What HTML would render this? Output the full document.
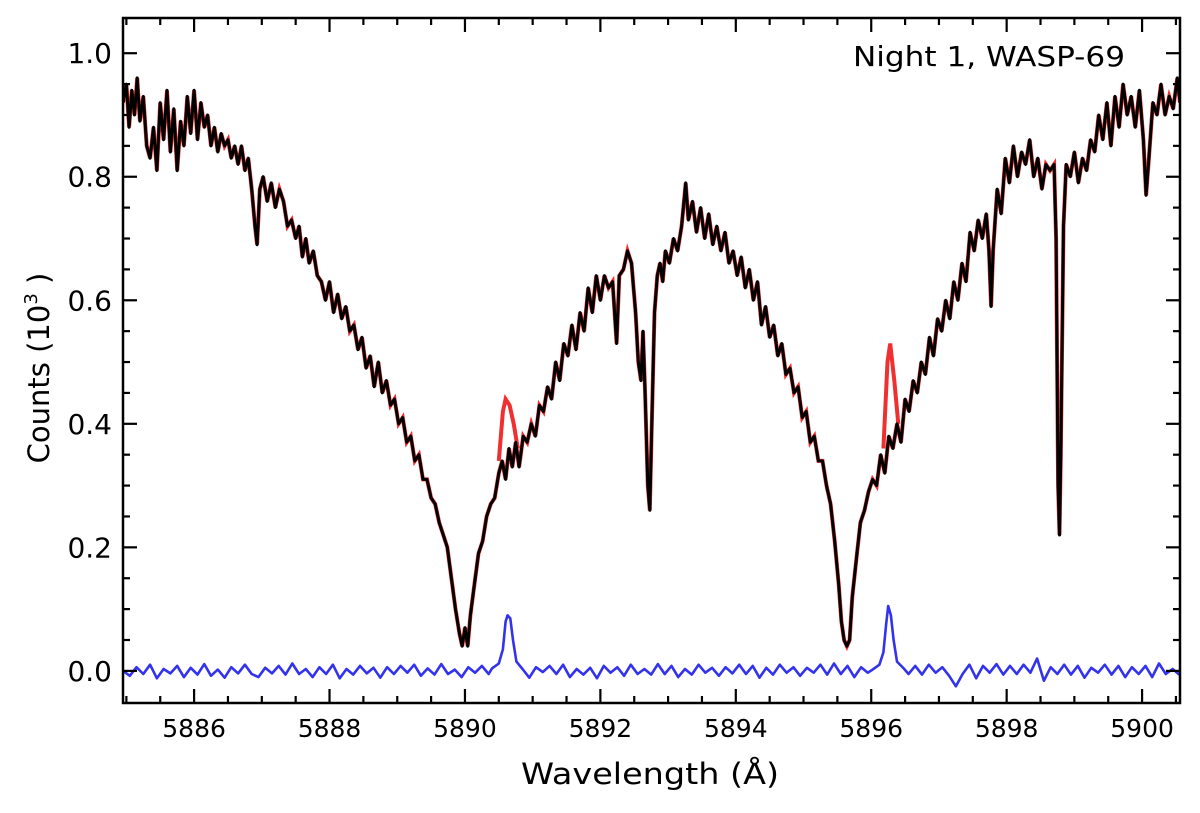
<!DOCTYPE html>
<html><head><meta charset="utf-8"><style>
html,body{margin:0;padding:0;background:#fff;}
svg{display:block;font-family:"DejaVu Sans","Liberation Sans",sans-serif;}
</style></head><body>
<svg id="chart" width="1200" height="813" viewBox="0 0 1200 813" xmlns="http://www.w3.org/2000/svg">
<g id="marks"></g>
<g id="axes"></g>
<text x="853" y="66" font-size="28" textLength="272" lengthAdjust="spacingAndGlyphs">Night 1, WASP-69</text>
<text x="521" y="784" font-size="29" textLength="258" lengthAdjust="spacingAndGlyphs">Wavelength (Å)</text>
<text transform="translate(49,368) rotate(-90)" font-size="29" text-anchor="middle">Counts (10<tspan font-size="18" dy="-12">3</tspan><tspan dy="12"> )</tspan></text>
</svg>
<script>
const xTicks=[5886,5888,5890,5892,5894,5896,5898,5900];
const yTicks=[0.0,0.2,0.4,0.6,0.8,1.0];
const yTickLabels=["0.0","0.2","0.4","0.6","0.8","1.0"];
const blackLam=[5884.95,5885.00,5885.04,5885.08,5885.12,5885.16,5885.20,5885.25,5885.30,5885.35,5885.40,5885.45,5885.50,5885.55,5885.60,5885.65,5885.70,5885.75,5885.80,5885.85,5885.90,5885.95,5886.00,5886.05,5886.10,5886.15,5886.20,5886.25,5886.30,5886.35,5886.40,5886.45,5886.50,5886.55,5886.60,5886.65,5886.70,5886.75,5886.80,5886.85,5886.90,5886.93,5886.97,5887.02,5887.08,5887.14,5887.20,5887.26,5887.32,5887.38,5887.44,5887.50,5887.55,5887.60,5887.65,5887.70,5887.76,5887.82,5887.88,5887.94,5888.00,5888.06,5888.12,5888.18,5888.24,5888.30,5888.36,5888.42,5888.48,5888.54,5888.60,5888.66,5888.72,5888.78,5888.84,5888.90,5888.96,5889.02,5889.08,5889.14,5889.20,5889.26,5889.32,5889.38,5889.44,5889.50,5889.56,5889.62,5889.68,5889.74,5889.80,5889.86,5889.92,5889.96,5890.00,5890.04,5890.08,5890.14,5890.20,5890.26,5890.32,5890.38,5890.44,5890.50,5890.55,5890.60,5890.65,5890.70,5890.75,5890.80,5890.86,5890.92,5890.98,5891.04,5891.10,5891.16,5891.22,5891.28,5891.34,5891.40,5891.46,5891.52,5891.58,5891.64,5891.70,5891.76,5891.82,5891.88,5891.94,5892.00,5892.06,5892.12,5892.18,5892.24,5892.28,5892.34,5892.40,5892.46,5892.52,5892.56,5892.60,5892.63,5892.66,5892.70,5892.73,5892.76,5892.80,5892.84,5892.88,5892.92,5892.96,5893.02,5893.08,5893.14,5893.20,5893.26,5893.30,5893.36,5893.42,5893.48,5893.54,5893.60,5893.66,5893.72,5893.78,5893.84,5893.90,5893.96,5894.02,5894.08,5894.14,5894.20,5894.26,5894.32,5894.38,5894.44,5894.50,5894.56,5894.62,5894.68,5894.74,5894.80,5894.86,5894.92,5894.98,5895.04,5895.10,5895.16,5895.22,5895.28,5895.34,5895.40,5895.46,5895.52,5895.56,5895.60,5895.64,5895.68,5895.72,5895.78,5895.84,5895.90,5895.96,5896.02,5896.08,5896.14,5896.20,5896.26,5896.32,5896.38,5896.44,5896.50,5896.56,5896.62,5896.68,5896.74,5896.80,5896.86,5896.92,5896.98,5897.04,5897.10,5897.16,5897.22,5897.28,5897.34,5897.40,5897.46,5897.52,5897.58,5897.64,5897.70,5897.74,5897.77,5897.80,5897.86,5897.92,5897.98,5898.04,5898.10,5898.16,5898.22,5898.28,5898.34,5898.40,5898.46,5898.52,5898.58,5898.64,5898.70,5898.73,5898.76,5898.78,5898.80,5898.84,5898.88,5898.94,5899.00,5899.06,5899.12,5899.18,5899.24,5899.30,5899.36,5899.42,5899.48,5899.54,5899.60,5899.66,5899.72,5899.78,5899.84,5899.90,5899.96,5900.02,5900.06,5900.10,5900.16,5900.22,5900.28,5900.34,5900.40,5900.46,5900.52,5900.56];
const blackCnt=[.92,.95,.88,.94,.90,.96,.89,.93,.85,.83,.88,.81,.92,.86,.94,.84,.91,.81,.89,.85,.93,.87,.94,.86,.92,.88,.90,.85,.88,.84,.87,.85,.86,.83,.85,.82,.85,.81,.83,.78,.72,.69,.78,.80,.76,.79,.75,.78,.76,.72,.73,.70,.72,.67,.70,.66,.68,.64,.63,.60,.63,.58,.61,.57,.59,.55,.56,.52,.54,.49,.51,.46,.50,.45,.47,.43,.44,.40,.41,.37,.38,.34,.35,.31,.31,.28,.27,.24,.22,.20,.15,.10,.06,.04,.07,.04,.09,.14,.19,.21,.25,.27,.28,.32,.34,.31,.36,.33,.37,.33,.38,.37,.40,.38,.43,.42,.46,.44,.50,.47,.53,.51,.56,.52,.58,.55,.62,.58,.64,.60,.64,.62,.63,.53,.64,.65,.68,.66,.58,.50,.47,.55,.45,.30,.26,.40,.58,.64,.66,.63,.68,.66,.70,.68,.72,.79,.73,.76,.71,.75,.70,.74,.69,.72,.68,.71,.66,.68,.64,.67,.62,.65,.60,.63,.56,.59,.54,.56,.51,.53,.48,.49,.45,.46,.41,.42,.37,.38,.34,.34,.30,.27,.21,.14,.08,.05,.04,.05,.12,.18,.24,.26,.29,.31,.30,.35,.32,.38,.36,.40,.37,.44,.42,.47,.45,.50,.48,.54,.51,.57,.55,.60,.57,.63,.60,.66,.63,.71,.68,.73,.70,.74,.68,.59,.68,.78,.74,.83,.79,.85,.80,.84,.82,.86,.80,.83,.78,.82,.81,.82,.70,.30,.22,.35,.72,.82,.80,.84,.79,.83,.81,.86,.84,.90,.86,.92,.85,.93,.88,.95,.90,.93,.88,.94,.86,.77,.83,.92,.90,.95,.90,.93,.91,.96,.92];
const redBump1Lam=[5890.50,5890.56,5890.60,5890.66,5890.72,5890.78];
const redBump1Cnt=[.34,.42,.44,.43,.40,.36];
const redBump2Lam=[5896.18,5896.24,5896.28,5896.34,5896.40];
const redBump2Cnt=[.36,.50,.53,.47,.40];
const blueStart=5884.95, blueStep=0.1;
const blueBase=[0,-8,6,-5,10,-12,3,-4,8,-10,5,-6,11,-8,2,-11,6,-4,10,-5,-10,5,-4,8,-6,12,-5,3,-10,6,-5,10,-12,3,-6,8,-4,5,-11,6,-5,8,-3,10,-8,4,-6,11,-5,2,-10,6,-3,8,-5,12,-6,5,-8,3,-11,6,-2,8,-5,10,-10,3,-6,5,-12,8,-3,6,-8,10,-5,3,-6,11,-5,8,-10,3,-6,10,-3,5,-8,6,-4,10,-5,8,-11,5,-6,10,-3,6,-8,5,-3,10,-6,12,-5,8,-10,6,-3,11,-6,14,-10,12,-5,8,-6,10,-3,6,-8,-25,-5,10,-12,8,-3,11,-6,8,-5,10,-3,20,-16,6,-5,10,-6,8,-11,5,-3,10,-6,8,-10,6,-5,8,-10,12,-5,3,-6];
const peak1Lam=[5890.40,5890.50,5890.56,5890.60,5890.63,5890.67,5890.71,5890.76,5890.85];
const peak1Cnt=[.004,.012,.035,.08,.09,.085,.05,.015,.003];
const peak2Lam=[5896.02,5896.12,5896.18,5896.22,5896.25,5896.29,5896.33,5896.38,5896.48];
const peak2Cnt=[.002,.01,.03,.075,.105,.09,.05,.015,.004];

const L=123,R=1180,T=18,B=703,XMIN=5884.95,XMAX=5900.56,YMIN=-0.052,YMAX=1.057;
const sx=v=>L+(v-XMIN)/(XMAX-XMIN)*(R-L);
const sy=v=>B-(v-YMIN)/(YMAX-YMIN)*(B-T);
const NS="http://www.w3.org/2000/svg";
const marks=document.getElementById('marks'), axes=document.getElementById('axes');
function mk(tag,attrs,parent){const e=document.createElementNS(NS,tag);for(const k in attrs)e.setAttribute(k,attrs[k]);parent.appendChild(e);return e;}
function pts(xs,ys){return xs.map((x,i)=>sx(x).toFixed(1)+','+sy(ys[i]).toFixed(1)).join(' ');}

const defs=mk('defs',{},marks);const cp=mk('clipPath',{id:'clip'},defs);mk('rect',{x:L,y:T,width:R-L,height:B-T},cp);
const g=mk('g',{'clip-path':'url(#clip)'},marks);

let rl=mk('polyline',{points:pts(blackLam,blackCnt),fill:'none',stroke:'#f03030','stroke-width':4},g);


let rb1=mk('polyline',{points:pts(redBump1Lam,redBump1Cnt),fill:'none',stroke:'#f03030','stroke-width':4},g);


let rb2=mk('polyline',{points:pts(redBump2Lam,redBump2Cnt),fill:'none',stroke:'#f03030','stroke-width':4},g);



let bl=mk('polyline',{points:pts(blackLam,blackCnt),fill:'none',stroke:'#000','stroke-width':3,'stroke-linejoin':'round'},g);



let bp=[];
blueBase.forEach((v,i)=>{const x=blueStart+i*blueStep;
  if((x>=peak1Lam[0]&&x<=peak1Lam[peak1Lam.length-1])||(x>=peak2Lam[0]&&x<=peak2Lam[peak2Lam.length-1]))return;
  bp.push([x,v/1000]);});
peak1Lam.forEach((x,i)=>bp.push([x,peak1Cnt[i]]));
peak2Lam.forEach((x,i)=>bp.push([x,peak2Cnt[i]]));
bp.sort((a,b)=>a[0]-b[0]);
let blu=mk('polyline',{points:pts(bp.map(p=>p[0]),bp.map(p=>p[1])),fill:'none',stroke:'#3333ee','stroke-width':2.6,'stroke-linejoin':'round'},g);



let fr=mk('rect',{x:L,y:T,width:R-L,height:B-T,fill:'none',stroke:'#000','stroke-width':2.5},axes);



for(let v=5885;v<=5900.5;v+=0.5){const x=sx(v);const major=xTicks.includes(v);const len=major?14:7;
  mk('line',{x1:x,x2:x,y1:B,y2:B-len,stroke:'#000','stroke-width':2.2},axes);
  mk('line',{x1:x,x2:x,y1:T,y2:T+len,stroke:'#000','stroke-width':2.2},axes);}
xTicks.forEach(v=>{const t=mk('text',{x:sx(v),y:B+34,'font-size':25,'text-anchor':'middle'},axes);t.textContent=v;
  
  });
for(let k=0;k<=20;k++){const v=k*0.05;const y=sy(v);const major=(k%4===0);const len=major?14:7;
  mk('line',{x1:L,x2:L+len,y1:y,y2:y,stroke:'#000','stroke-width':2.2},axes);
  mk('line',{x1:R,x2:R-len,y1:y,y2:y,stroke:'#000','stroke-width':2.2},axes);}
yTicks.forEach((v,i)=>{const t=mk('text',{x:112,y:sy(v)+10,'font-size':28,'text-anchor':'end'},axes);t.textContent=yTickLabels[i];
  
  });
</script>
</body></html>
